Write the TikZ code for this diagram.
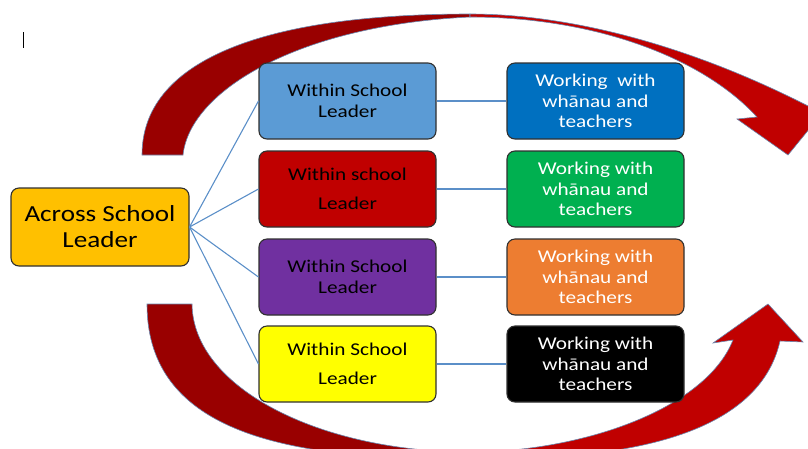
\documentclass[tikz,border=0pt]{standalone}
\usepackage{fontspec}
\setmainfont{Carlito}[FakeStretch=1.18]
\definecolor{backred}{HTML}{990000}
\definecolor{frontred}{HTML}{C00000}
\definecolor{outl}{HTML}{6A86AE}
\definecolor{conncol}{HTML}{5B8FC8}
\definecolor{lblue}{HTML}{5B9BD5}
\definecolor{dred}{HTML}{C00000}
\definecolor{purp}{HTML}{7030A0}
\definecolor{yell}{HTML}{FFFF00}
\definecolor{dblue}{HTML}{0070C0}
\definecolor{grn}{HTML}{00B050}
\definecolor{orng}{HTML}{ED7D31}
\definecolor{gold}{HTML}{FFC000}
\definecolor{edge}{HTML}{303030}
\begin{document}
\begin{tikzpicture}[x=1pt,y=-1pt,
  box/.style={rounded corners=8pt, draw=edge, line width=1.1pt,
    minimum width=177pt, minimum height=76pt, align=center, inner sep=0pt},
  leftbox/.style={box, text=black, font=\fontsize{18}{21}\selectfont},
  loosebox/.style={box, text=black, font=\fontsize{18}{29}\selectfont},
  rightbox/.style={box, text=white, font=\fontsize{18}{20.5}\selectfont},
  conn/.style={draw=conncol, line width=1.1pt},
  ribbon/.style={draw=outl, line width=0.6pt}]
\useasboundingbox (0,0) rectangle (808,448);
\begin{scope}
\clip (0,0) rectangle (808,448);
% top curved arrow: back part
\fill[backred, ribbon] (142,155) .. controls (142,63) and (257,14) .. (470,14)
  -- (470,17) .. controls (300,25) and (190,90) .. (183,155) -- cycle;
% top curved arrow: front part with head
\fill[frontred, ribbon] (470,14) .. controls (560,14) and (680,40) .. (812,108)
  -- (828,106) -- (788,155) -- (737,119) -- (757,117)
  .. controls (700,55) and (590,17) .. (470,17) -- cycle;
% bottom curved arrow: back part
\fill[backred, ribbon] (147,304) -- (192,304) .. controls (193,388) and (320,452) .. (470,452)
  -- (470,458) .. controls (260,462) and (147,420) .. (147,304) -- cycle;
% bottom curved arrow: front part with head
\fill[frontred, ribbon] (470,458) .. controls (640,462) and (760,430) .. (780,341)
  -- (803,342) -- (768,304) -- (713,343) -- (733,340)
  .. controls (705,410) and (580,452) .. (470,452) -- cycle;
\end{scope}
% text cursor mark
\draw[black, line width=0.8pt] (23,32) -- (23,48);
% nodes
\node[box, fill=gold, text=black, minimum width=178pt, minimum height=78pt,
  font=\fontsize{23}{26}\selectfont] (across) at (100,227) {Across School\\Leader};
\node[leftbox, fill=lblue] (w1) at (347.5,101) {Within School\\Leader};
\node[loosebox, fill=dred] (w2) at (347.5,189) {Within school\\Leader};
\node[leftbox, fill=purp] (w3) at (347.5,277) {Within School\\Leader};
\node[loosebox, fill=yell] (w4) at (347.5,364) {Within School\\Leader};
\node[rightbox, fill=dblue] (k1) at (595.5,101) {Working\ \ with\\whānau and\\teachers};
\node[rightbox, fill=grn] (k2) at (595.5,189) {Working with\\whānau and\\teachers};
\node[rightbox, fill=orng] (k3) at (595.5,277) {Working with\\whānau and\\teachers};
\node[rightbox, fill=black] (k4) at (595.5,364) {Working with\\whānau and\\teachers};
% connectors
\foreach \w in {w1,w2,w3,w4} \draw[conn] (across.east) -- (\w.west);
\draw[conn] (w1.east) -- (k1.west);
\draw[conn] (w2.east) -- (k2.west);
\draw[conn] (w3.east) -- (k3.west);
\draw[conn] (w4.east) -- (k4.west);
\end{tikzpicture}
\end{document}
